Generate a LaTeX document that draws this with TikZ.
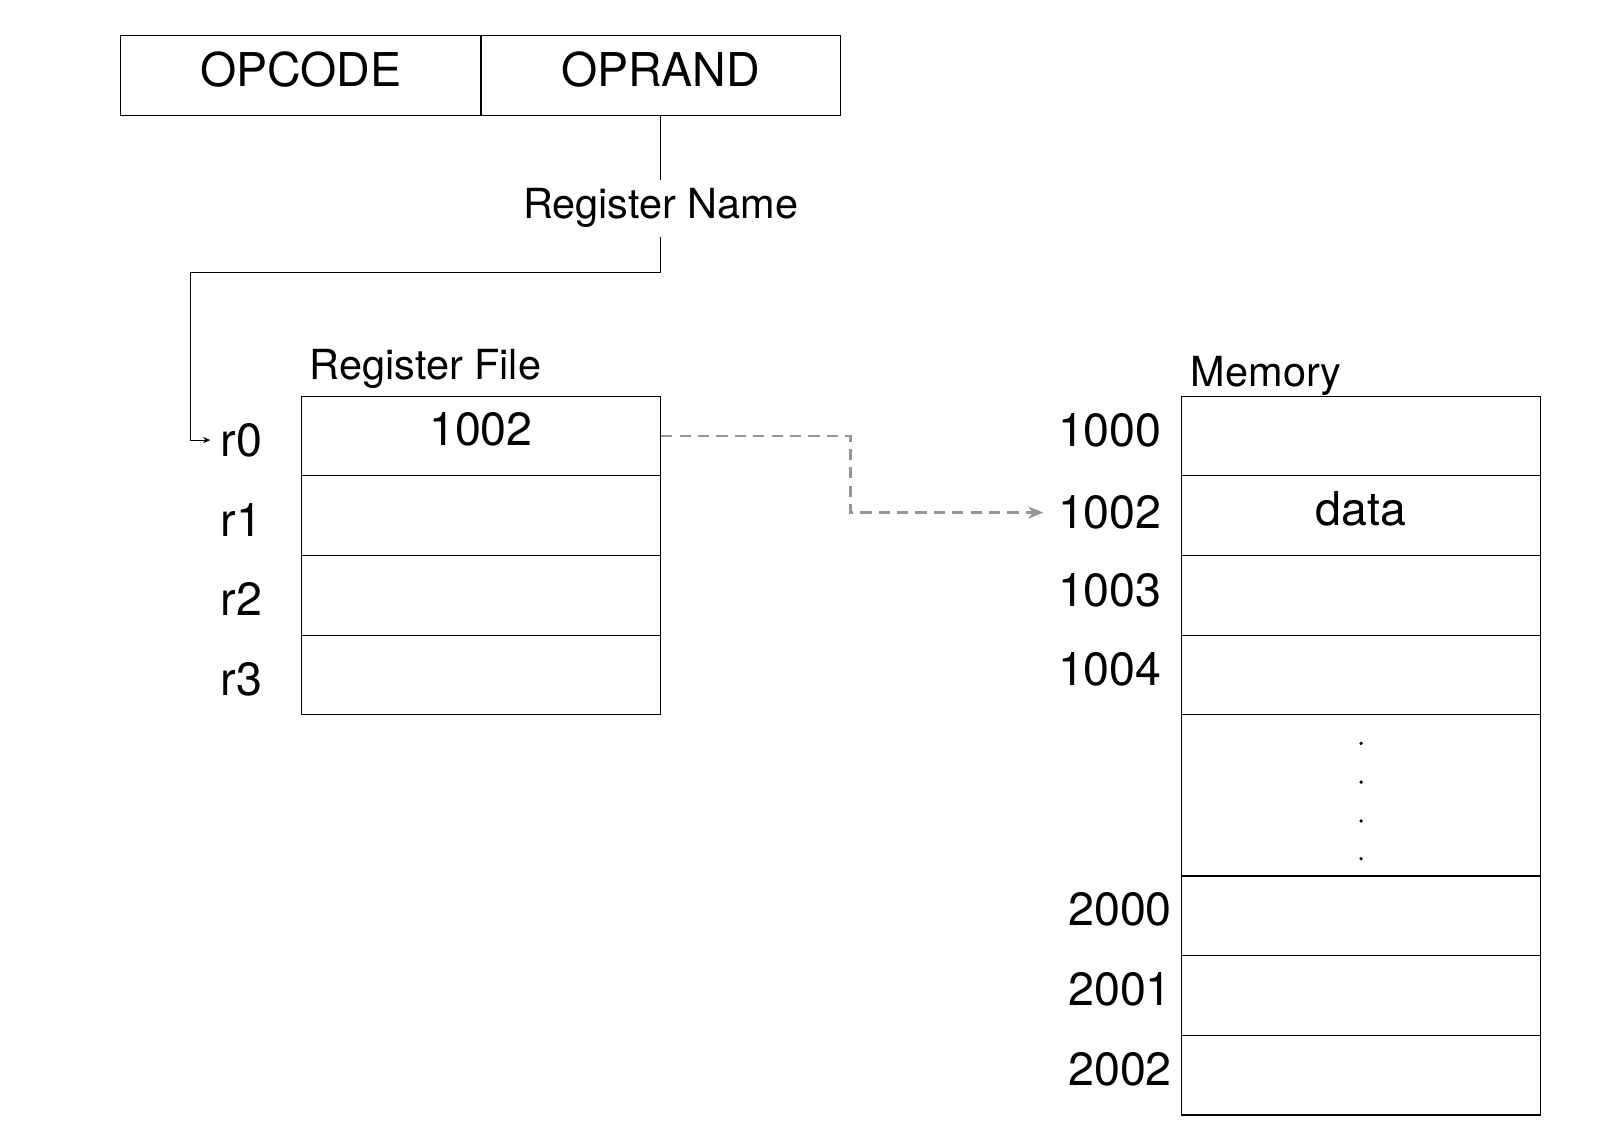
\documentclass[tikz,border=0pt]{standalone}
\usepackage{fontspec}
\setmainfont{TeX Gyre Heros}
\usetikzlibrary{arrows.meta,positioning}

\newcommand{\cellfont}{\fontsize{22.8pt}{27pt}\selectfont}
\newcommand{\namefont}{\fontsize{20.3pt}{24pt}\selectfont}

\begin{document}
\begin{tikzpicture}
			\definecolor{pointerColour}{RGB}{150, 150, 150}
			\tikzstyle{field}=[rectangle, draw, line width=0.6pt, minimum width=176.5pt, minimum height=39pt, inner sep=0pt, text depth=6pt, font=\cellfont]
			\tikzstyle{cell}=[rectangle, draw, line width=0.6pt, minimum width=176pt, minimum height=39pt, inner sep=0pt, text depth=7pt, font=\cellfont]
			\tikzstyle{tallcell}=[cell, minimum height=79pt]
			\tikzstyle{reglabel}=[anchor=west, inner sep=5pt, font=\cellfont]
			\tikzstyle{addr}=[anchor=east, inner sep=7pt, font=\cellfont]
			\tikzstyle{caption}=[anchor=base west, inner sep=0pt, font=\namefont]
			\tikzstyle{pointer}=[draw=pointerColour, line width=1.2pt, dash pattern=on 5.5pt off 3.5pt, -{Stealth[length=7.5pt, width=6pt, fill=pointerColour]}]

			\useasboundingbox (0,0) rectangle (783.5pt,-560.5pt);

			\node [field, xshift=147.25pt, yshift=-37pt] (opcode) {OPCODE};
			\node [field, xshift=323.5pt, yshift=-37pt] (oprand) {OPRAND};

			\node [font=\namefont, fill=white, inner sep=4pt, xshift=323.5pt, yshift=-102pt] (regname) {Register Name};
			\coordinate (bend) at (93.5pt,-133.5pt);

			\node [caption, xshift=151.5pt, yshift=-186pt] (regfile) {Register File};
			\node [caption, xshift=583pt, yshift=-189.5pt] (memory) {Memory};

			\node [cell, xshift=235.5pt, yshift=-213.5pt] (reg0) {1002};
			\node [cell, xshift=235.5pt, yshift=-252.5pt] (reg1) {};
			\node [cell, xshift=235.5pt, yshift=-291.5pt] (reg2) {};
			\node [cell, xshift=235.5pt, yshift=-330.5pt] (reg3) {};

			\node [reglabel, xshift=103pt, yshift=-215.5pt] (r0) {r0};
			\node [reglabel, xshift=103pt, yshift=-254.5pt] (r1) {r1};
			\node [reglabel, xshift=103pt, yshift=-293.5pt] (r2) {r2};
			\node [reglabel, xshift=103pt, yshift=-332.5pt] (r3) {r3};

			\node [cell, xshift=666.5pt, yshift=-213.5pt] (mem0) {};
			\node [cell, xshift=666.5pt, yshift=-252.5pt] (mem1) {data};
			\node [cell, xshift=666.5pt, yshift=-291.5pt] (mem2) {};
			\node [cell, xshift=666.5pt, yshift=-330.5pt] (mem3) {};
			\node [tallcell, xshift=666.5pt, yshift=-389.5pt] (memgap) {};
			\node [cell, xshift=666.5pt, yshift=-448.5pt] (mem4) {};
			\node [cell, xshift=666.5pt, yshift=-487.5pt] (mem5) {};
			\node [cell, xshift=666.5pt, yshift=-526.5pt] (mem6) {};

			\node [addr, xshift=576pt, yshift=-210.5pt] (a1000) {1000};
			\node [addr, xshift=576pt, yshift=-251pt] (a1002) {1002};
			\node [addr, xshift=576pt, yshift=-289pt] (a1003) {1003};
			\node [addr, xshift=576pt, yshift=-328pt] (a1004) {1004};
			\node [addr, xshift=581pt, yshift=-445.5pt] (a2000) {2000};
			\node [addr, xshift=581pt, yshift=-484.5pt] (a2001) {2001};
			\node [addr, xshift=581pt, yshift=-523.5pt] (a2002) {2002};

			% dots in the gap
			\fill (666.5pt,-364pt) circle (0.9pt);
			\fill (666.5pt,-383pt) circle (0.9pt);
			\fill (666.5pt,-402pt) circle (0.9pt);
			\fill (666.5pt,-420.5pt) circle (0.9pt);

			\draw [line width=0.5pt] (oprand.south) -- (regname.north);
			\draw [line width=0.5pt, -{Stealth[length=3.5pt, width=3pt]}] (regname.south) |- (bend) |- (r0.west);

			\coordinate (turn) at (416.5pt,-232.5pt);
			\path [pointer] (reg0.east) -| (turn) |- (a1002.west);
		\end{tikzpicture}
\end{document}
